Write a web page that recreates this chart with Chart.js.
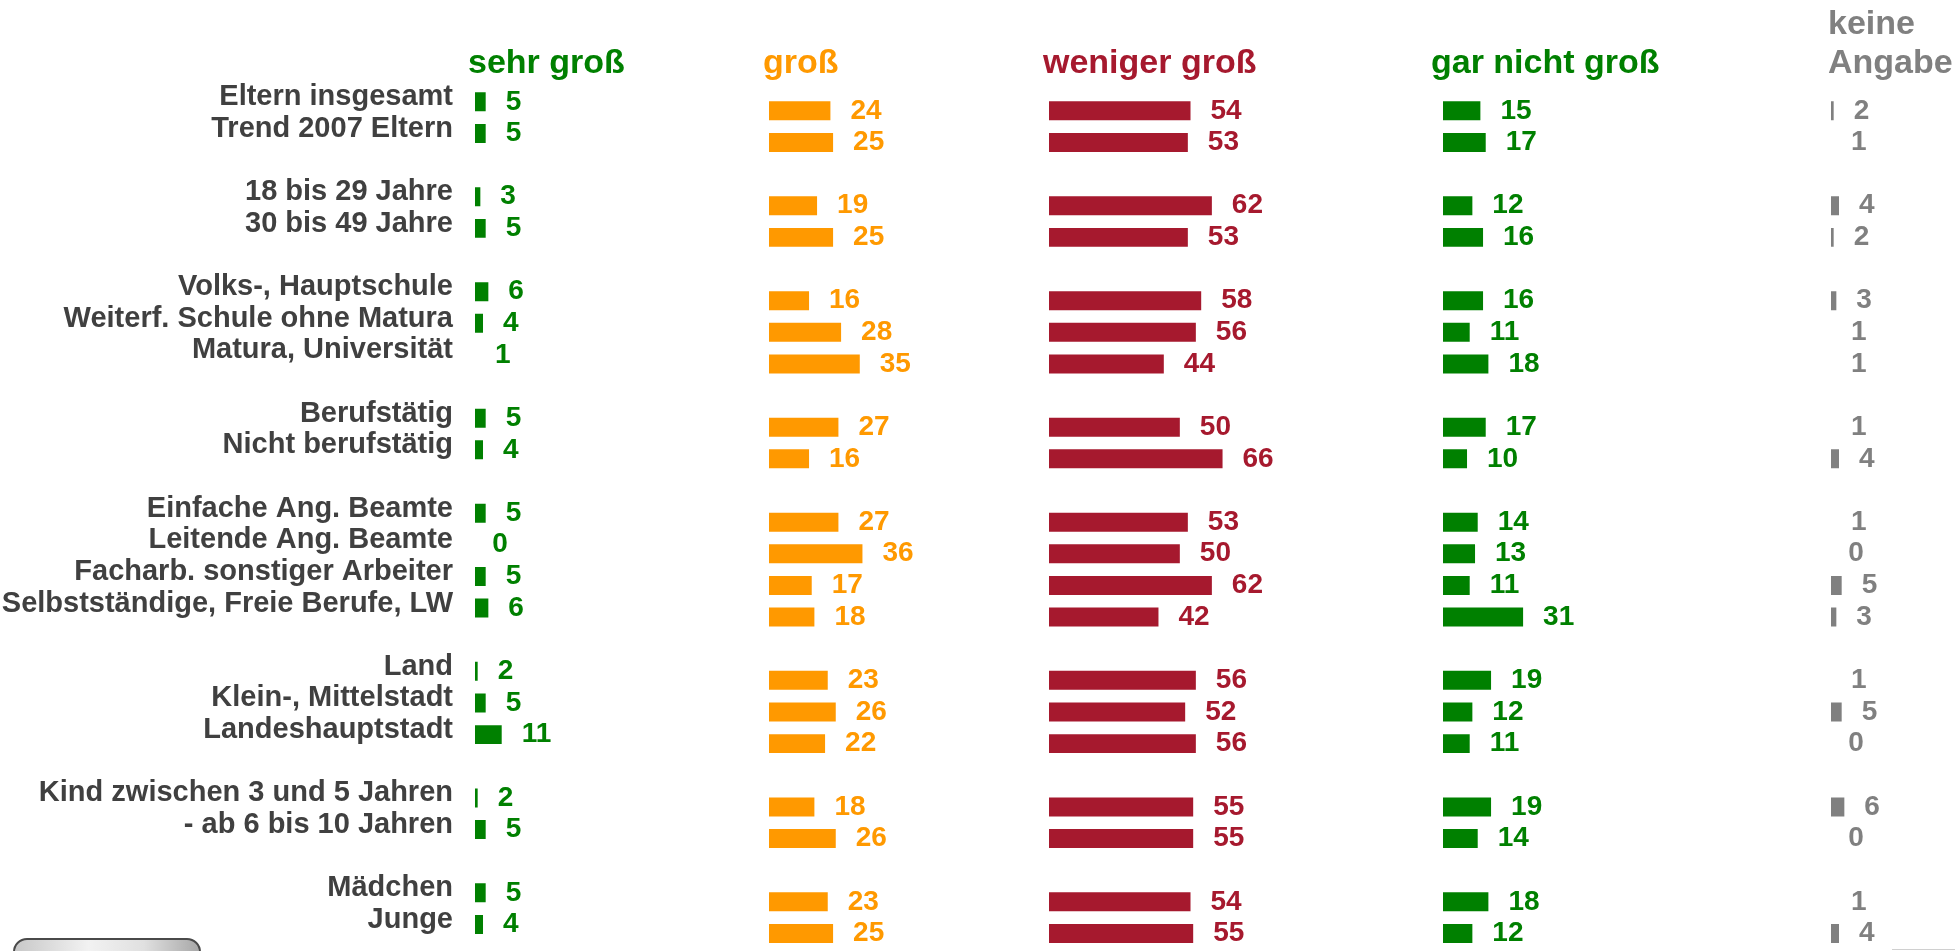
<!DOCTYPE html>
<html>
<head>
<meta charset="utf-8">
<script src="https://cdn.jsdelivr.net/npm/chart.js@4.4.0/dist/chart.umd.min.js"></script>
<style>
html,body{margin:0;padding:0;background:#fff;overflow:hidden;width:1955px;height:951px;position:relative;}
canvas.col{position:absolute;top:0;}
#btn{position:absolute;left:13px;top:938px;width:184px;height:40px;border:2px solid #4a4a4a;border-radius:14px;background:linear-gradient(to right,#c8c8c8,#f2f2f2 40%,#e0e0e0 70%,#a8a8a8);}
#ln{position:absolute;left:1892px;top:949px;width:63px;height:1px;background:#d0d0d0;}
</style>
</head>
<body>
<canvas class="col" id="c0" width="742" height="951" style="left:0px"></canvas>
<canvas class="col" id="c1" width="287" height="951" style="left:749px"></canvas>
<canvas class="col" id="c2" width="287" height="951" style="left:1029px"></canvas>
<canvas class="col" id="c3" width="287" height="951" style="left:1423px"></canvas>
<canvas class="col" id="c4" width="287" height="951" style="left:1811px"></canvas>
<div id="btn"></div>
<div id="ln"></div>
<script>
// ---- data ----
const categories = [
  'Eltern insgesamt', 'Trend 2007 Eltern', '',
  '18 bis 29 Jahre', '30 bis 49 Jahre', '',
  'Volks-, Hauptschule', 'Weiterf. Schule ohne Matura', 'Matura, Universität', '',
  'Berufstätig', 'Nicht berufstätig', '',
  'Einfache Ang. Beamte', 'Leitende Ang. Beamte', 'Facharb. sonstiger Arbeiter', 'Selbstständige, Freie Berufe, LW', '',
  'Land', 'Klein-, Mittelstadt', 'Landeshauptstadt', '',
  'Kind zwischen 3 und 5 Jahren', '- ab 6 bis 10 Jahren', '',
  'Mädchen', 'Junge'
];
const sehrGross     = [5, 5, null, 3, 5, null, 6, 4, 1, null, 5, 4, null, 5, 0, 5, 6, null, 2, 5, 11, null, 2, 5, null, 5, 4];
const gross         = [24, 25, null, 19, 25, null, 16, 28, 35, null, 27, 16, null, 27, 36, 17, 18, null, 23, 26, 22, null, 18, 26, null, 23, 25];
const wenigerGross  = [54, 53, null, 62, 53, null, 58, 56, 44, null, 50, 66, null, 53, 50, 62, 42, null, 56, 52, 56, null, 55, 55, null, 54, 55];
const garNichtGross = [15, 17, null, 12, 16, null, 16, 11, 18, null, 17, 10, null, 14, 13, 11, 31, null, 19, 12, 11, null, 19, 14, null, 18, 12];
const keineAngabe   = [2, 1, null, 4, 2, null, 3, 1, 1, null, 1, 4, null, 1, 0, 5, 3, null, 1, 5, 0, null, 6, 0, null, 1, 4];
const headers = [['sehr groß'], ['groß'], ['weniger groß'], ['gar nicht groß'], ['keine', 'Angabe']];

// ---- styling ----
Chart.defaults.font.family = "'Liberation Sans', Arial, sans-serif";
Chart.defaults.animation = false;
const GREEN = '#008000', ORANGE = '#FF9900', CRIMSON = '#A6192E', GREY = '#808080', LABEL = '#404040';

function valueLabels(color) {
  return {
    id: 'valueLabels',
    afterDatasetsDraw(chart) {
      const ctx = chart.ctx;
      const meta = chart.getDatasetMeta(0);
      const data = chart.data.datasets[0].data;
      ctx.save();
      ctx.font = "bold 28px 'Liberation Sans', Arial, sans-serif";
      ctx.fillStyle = color;
      ctx.textAlign = 'left';
      ctx.textBaseline = 'middle';
      meta.data.forEach((bar, i) => {
        const v = data[i];
        if (v === null || v === undefined) return;
        ctx.fillText(String(v), bar.x + 20, bar.y);
      });
      ctx.restore();
    }
  };
}
function colHeader(lines, color, dx) {
  return {
    id: 'colHeader',
    afterDraw(chart) {
      const ctx = chart.ctx;
      ctx.save();
      ctx.font = "bold 34px 'Liberation Sans', Arial, sans-serif";
      ctx.fillStyle = color;
      ctx.textAlign = 'left';
      ctx.textBaseline = 'alphabetic';
      const n = lines.length;
      lines.forEach((t, k) => {
        ctx.fillText(t, chart.chartArea.left + dx, 73 - (n - 1 - k) * 39);
      });
      ctx.restore();
    }
  };
}

function makeChart(id, values, color, header, headerColor, dx, withLabels, shift) {
  const padTop = 86.0 + shift;
  const areaH = 27 * 31.64;
  new Chart(document.getElementById(id), {
    type: 'bar',
    data: {
      labels: categories,
      datasets: [{
        data: values,
        backgroundColor: color,
        borderWidth: 0,
        categoryPercentage: 1,
        barPercentage: 0.6,
        clip: 0
      }]
    },
    options: {
      indexAxis: 'y',
      responsive: false,
      animation: false,
      layout: { padding: { top: padTop, bottom: 951 - padTop - areaH, left: withLabels ? 0 : 20, right: 0 } },
      plugins: { legend: { display: false }, tooltip: { enabled: false }, title: { display: false } },
      scales: {
        x: { display: false, min: 1, max: 101 },
        y: withLabels ? {
          display: true,
          grid: { display: false, drawTicks: false },
          border: { display: false },
          ticks: {
            autoSkip: false,
            padding: 22,
            labelOffset: -4.5,
            color: LABEL,
            font: { size: 29, weight: 'bold' }
          },
          afterFit(scale) { scale.width = 475; scale.paddingTop = 0; scale.paddingBottom = 0; }
        } : { display: false }
      }
    },
    plugins: [valueLabels(color), colHeader(header, headerColor, dx)]
  });
}

makeChart('c0', sehrGross, GREEN, headers[0], GREEN, -7, true, 0);
makeChart('c1', gross, ORANGE, headers[1], ORANGE, -6, false, 9);
makeChart('c2', wenigerGross, CRIMSON, headers[2], CRIMSON, -6, false, 9);
makeChart('c3', garNichtGross, GREEN, headers[3], GREEN, -12, false, 9);
makeChart('c4', keineAngabe, GREY, headers[4], GREY, -3, false, 9);
</script>
</body>
</html>
